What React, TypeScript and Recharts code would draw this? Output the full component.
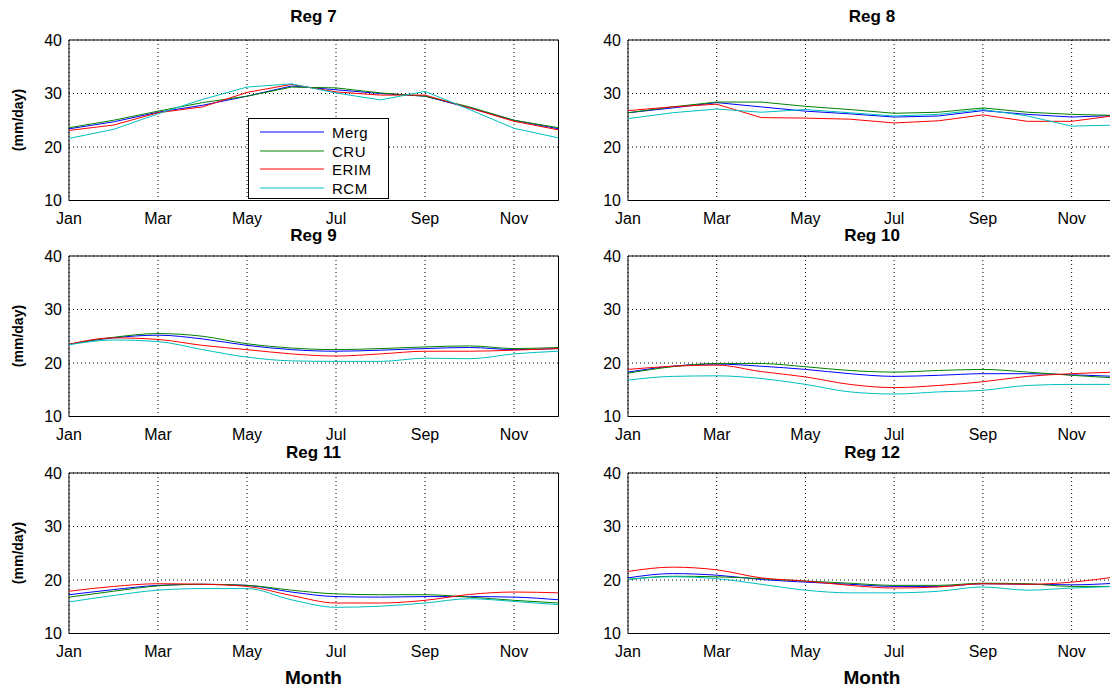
import React from "react";
import { LineChart, Line, XAxis, YAxis, CartesianGrid, ReferenceArea, Legend } from "recharts";

const MONTHS = [1, 2, 3, 4, 5, 6, 7, 8, 9, 10, 11, 12];
const MONTH_LABELS = ["Jan", "Feb", "Mar", "Apr", "May", "Jun", "Jul", "Aug", "Sep", "Oct", "Nov", "Dec"];
const X_TICKS = [1, 3, 5, 7, 9, 11];
const Y_TICKS = [10, 20, 30, 40];
const SERIES_NAMES = ["Merg", "CRU", "ERIM", "RCM"];
const SERIES_COLORS = ["#0000ff", "#008000", "#ff0000", "#00bfbf"];

// monthly means (mm/day), Jan..Dec
const reg7Merg = [23.4, 24.7, 26.5, 27.8, 29.5, 31.4, 30.7, 30.0, 29.5, 27.3, 25.0, 23.4];
const reg7Cru = [23.6, 25.0, 26.7, 28.3, 29.5, 31.2, 31.05, 30.1, 29.5, 27.5, 25.0, 23.6];
const reg7Erim = [23.1, 24.1, 26.4, 27.5, 30.2, 31.7, 30.3, 29.7, 29.7, 27.3, 24.8, 23.2];
const reg7Rcm = [21.6, 23.3, 26.2, 28.9, 31.2, 31.8, 30.1, 28.8, 30.4, 27.0, 23.5, 21.7];

const reg8Merg = [26.4, 27.3, 28.3, 27.5, 26.7, 26.2, 25.6, 25.8, 26.8, 26.1, 25.6, 25.9];
const reg8Cru = [26.4, 27.5, 28.4, 28.4, 27.6, 27.0, 26.3, 26.5, 27.3, 26.5, 26.1, 25.9];
const reg8Erim = [26.8, 27.5, 28.0, 25.5, 25.4, 25.2, 24.5, 24.9, 26.0, 24.8, 24.8, 25.9];
const reg8Rcm = [25.3, 26.4, 27.1, 26.5, 27.0, 26.4, 25.8, 26.1, 27.0, 25.8, 23.9, 24.1];

const reg9Merg = [23.5, 24.7, 25.2, 24.5, 23.3, 22.5, 22.2, 22.4, 22.7, 22.9, 22.5, 22.7];
const reg9Cru = [23.5, 24.8, 25.5, 25.0, 23.6, 22.8, 22.5, 22.7, 23.0, 23.2, 22.7, 22.9];
const reg9Erim = [23.5, 24.7, 24.4, 23.3, 22.5, 21.7, 21.3, 21.7, 22.2, 22.2, 22.4, 22.7];
const reg9Rcm = [23.4, 24.3, 24.0, 22.5, 21.1, 20.4, 20.3, 20.3, 20.9, 20.8, 21.7, 22.2];

const reg10Merg = [18.3, 19.4, 19.8, 19.4, 18.8, 18.0, 17.5, 17.7, 18.0, 18.0, 17.8, 17.5];
const reg10Cru = [18.1, 19.3, 19.9, 19.9, 19.3, 18.6, 18.3, 18.6, 18.8, 18.3, 17.7, 17.2];
const reg10Erim = [18.8, 19.4, 19.6, 18.4, 17.4, 16.0, 15.4, 15.8, 16.5, 17.5, 18.0, 18.3];
const reg10Rcm = [16.8, 17.5, 17.6, 17.1, 16.0, 14.6, 14.2, 14.6, 14.9, 15.8, 16.0, 16.0];

const reg11Merg = [17.25, 18.2, 19.0, 19.2, 19.0, 17.75, 16.9, 16.8, 16.9, 16.9, 16.8, 16.3];
const reg11Cru = [16.8, 17.9, 18.9, 19.2, 19.0, 18.1, 17.4, 17.25, 17.25, 16.8, 16.2, 15.7];
const reg11Erim = [17.9, 18.8, 19.3, 19.2, 18.8, 17.1, 15.7, 15.7, 16.2, 17.3, 17.75, 17.6];
const reg11Rcm = [15.9, 17.1, 18.1, 18.4, 18.4, 16.3, 14.9, 15.1, 15.7, 16.5, 16.0, 15.4];

const reg12Merg = [20.4, 21.2, 20.9, 20.1, 19.6, 19.2, 18.8, 18.8, 19.3, 19.2, 19.1, 19.4];
const reg12Cru = [20.1, 20.7, 20.6, 20.25, 19.8, 19.4, 19.0, 19.0, 19.4, 19.3, 18.8, 18.8];
const reg12Erim = [21.6, 22.4, 21.9, 20.4, 19.8, 19.0, 18.5, 18.7, 19.3, 19.2, 19.6, 20.6];
const reg12Rcm = [20.1, 20.6, 20.25, 19.2, 18.1, 17.6, 17.6, 17.9, 18.7, 18.1, 18.5, 18.8];

const FONT = '"Liberation Sans", Arial, Helvetica, sans-serif';

type PanelDef = {
  title: string;
  series: number[][];
  curve: "linear" | "monotone";
  col: number;
  row: number;
};

const PANELS: PanelDef[] = [
  { title: "Reg 7", series: [reg7Merg, reg7Cru, reg7Erim, reg7Rcm], curve: "linear", col: 0, row: 0 },
  { title: "Reg 8", series: [reg8Merg, reg8Cru, reg8Erim, reg8Rcm], curve: "linear", col: 1, row: 0 },
  { title: "Reg 9", series: [reg9Merg, reg9Cru, reg9Erim, reg9Rcm], curve: "monotone", col: 0, row: 1 },
  { title: "Reg 10", series: [reg10Merg, reg10Cru, reg10Erim, reg10Rcm], curve: "monotone", col: 1, row: 1 },
  { title: "Reg 11", series: [reg11Merg, reg11Cru, reg11Erim, reg11Rcm], curve: "monotone", col: 0, row: 2 },
  { title: "Reg 12", series: [reg12Merg, reg12Cru, reg12Erim, reg12Rcm], curve: "monotone", col: 1, row: 2 },
];

const ROW_TOPS = [0, 216, 433];
const COL_LEFTS = [0, 560];

function LegendBox(props: any) {
  // keep plotting order (Merg, CRU, ERIM, RCM) rather than recharts' sorted order
  const payload = [...(props.payload || [])].sort(
    (a: any, b: any) => SERIES_NAMES.indexOf(a.value) - SERIES_NAMES.indexOf(b.value)
  );
  return (
    <div
      style={{
        width: 139,
        height: 79,
        border: "1px solid #000",
        background: "#fff",
        position: "relative",
        fontFamily: FONT,
        fontSize: 15,
      }}
    >
      {payload.map((p: any, i: number) => (
        <div key={p.value} style={{ position: "absolute", left: 0, top: 4 + i * 18.5, height: 18, width: 139 }}>
          <svg width={80} height={18} style={{ position: "absolute", left: 0, top: 0 }}>
            <line x1={11} x2={75} y1={9} y2={9} stroke={p.color} strokeWidth={1} />
          </svg>
          <span style={{ position: "absolute", left: 83, top: 1, lineHeight: "17px", letterSpacing: 0.5 }}>
            {p.value}
          </span>
        </div>
      ))}
    </div>
  );
}

function Panel({ def }: { def: PanelDef }) {
  const left = COL_LEFTS[def.col];
  const top = ROW_TOPS[def.row];
  const width = def.col === 0 ? 575 : 560;
  const yAxisW = def.col === 0 ? 69 : 68;
  const marginRight = def.col === 0 ? 16.5 : 4;
  const height = def.row === 2 ? 257 : 235;
  const xAxisH = def.row === 2 ? 56.5 : 34.5;
  const plotCenter = def.col === 0 ? 313.5 : 312;
  const titleY = def.row === 0 ? 17 : 20;

  const data = MONTHS.map((m, i) => {
    const row: Record<string, number> = { month: m };
    SERIES_NAMES.forEach((name, s) => {
      row[name] = def.series[s][i];
    });
    return row;
  });

  return (
    <div style={{ position: "absolute", left, top, width, height }}>
      <LineChart width={width} height={height} data={data} margin={{ top: 40, right: marginRight, bottom: 0, left: 0 }}>
        <CartesianGrid stroke="#000" strokeDasharray="1 3" strokeWidth={1} />
        <XAxis
          dataKey="month"
          type="number"
          domain={[1, 12]}
          ticks={X_TICKS}
          tickFormatter={(v: number) => MONTH_LABELS[v - 1]}
          height={xAxisH}
          axisLine={false}
          tickLine={false}
          tickSize={0}
          tickMargin={12}
          interval={0}
          tick={{ fontSize: 16, fill: "#000", fontFamily: FONT }}
        />
        <YAxis
          type="number"
          domain={[10, 40]}
          ticks={Y_TICKS}
          width={yAxisW}
          axisLine={false}
          tickLine={false}
          tickSize={0}
          tickMargin={7}
          interval={0}
          tick={{ fontSize: 16, fill: "#000", fontFamily: FONT }}
        />
        <ReferenceArea x1={1} x2={12} y1={10} y2={40} fill="none" stroke="#000" strokeWidth={1} />
        {SERIES_NAMES.map((name, s) => (
          <Line
            key={name}
            type={def.curve}
            dataKey={name}
            stroke={SERIES_COLORS[s]}
            strokeWidth={1}
            dot={false}
            isAnimationActive={false}
          />
        ))}
        {def.title === "Reg 7" && (
          <Legend
            layout="vertical"
            align="center"
            verticalAlign="middle"
            content={LegendBox}
            wrapperStyle={{ left: 248, top: 118, width: 141, height: 81 }}
          />
        )}
      </LineChart>
      <div
        style={{
          position: "absolute",
          left: plotCenter - 60,
          top: titleY - 10,
          width: 120,
          textAlign: "center",
          fontWeight: "bold",
          fontSize: 17,
          lineHeight: "20px",
          fontFamily: FONT,
        }}
      >
        {def.title}
      </div>
      {def.col === 0 && (
        <div
          style={{
            position: "absolute",
            left: 18 - 50,
            top: 120 - 10,
            width: 100,
            height: 20,
            lineHeight: "20px",
            textAlign: "center",
            transform: "rotate(-90deg)",
            fontWeight: "bold",
            fontSize: 14,
            fontFamily: FONT,
          }}
        >
          (mm/day)
        </div>
      )}
      {def.row === 2 && (
        <div
          style={{
            position: "absolute",
            left: plotCenter - 60,
            top: 245 - 12,
            width: 120,
            textAlign: "center",
            fontWeight: "bold",
            fontSize: 19,
            lineHeight: "24px",
            fontFamily: FONT,
          }}
        >
          Month
        </div>
      )}
    </div>
  );
}

export default function App() {
  return (
    <div
      style={{
        position: "fixed",
        left: 0,
        top: 0,
        width: 1110,
        height: 690,
        overflow: "hidden",
        background: "#fff",
        fontFamily: FONT,
      }}
    >
      {PANELS.map((p) => (
        <Panel key={p.title} def={p} />
      ))}
    </div>
  );
}
